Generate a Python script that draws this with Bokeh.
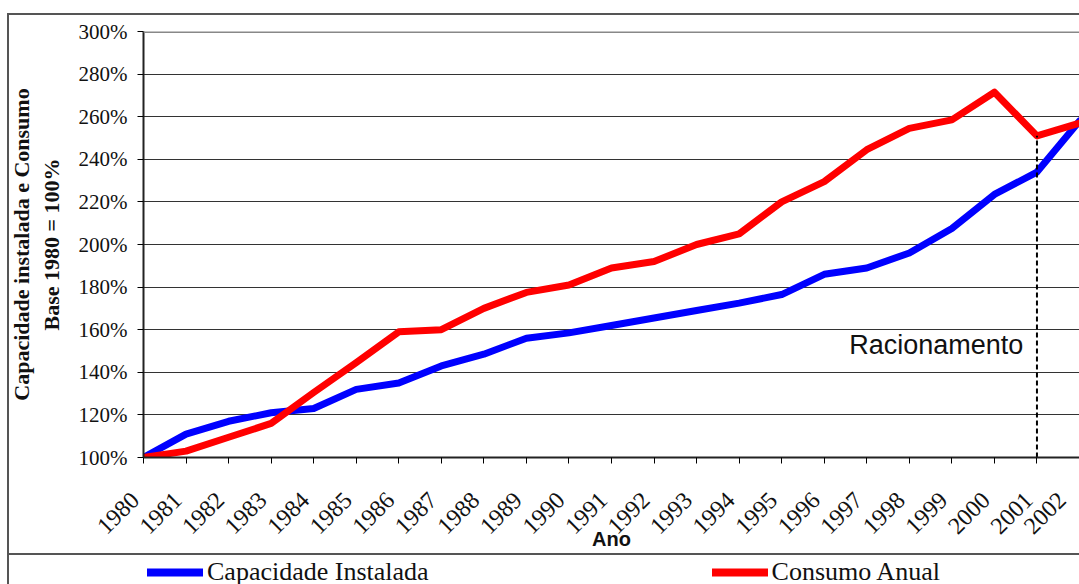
import math
from bokeh.plotting import figure
from bokeh.layouts import column
from bokeh.models import (FixedTicker, PrintfTickFormatter, Legend, LegendItem, Label,
                          Span, Range1d, InlineStyleSheet)
from bokeh.embed import file_html
from bokeh.resources import INLINE

# ---- data ----
years = [1980, 1981, 1982, 1983, 1984, 1985, 1986, 1987, 1988, 1989, 1990, 1991,
         1992, 1993, 1994, 1995, 1996, 1997, 1998, 1999, 2000, 2001, 2002]
capacidade = [100, 111, 117, 121, 123, 132, 135, 143, 148.5, 156, 158.5, 162,
              165.5, 169, 172.5, 176.5, 186, 189, 196, 207.5, 223.5, 234, 258]
consumo = [100, 103, 109.5, 116, 130.5, 144.5, 159, 160, 170, 177.5, 181, 189,
           192, 200, 205, 220, 229.5, 244.5, 254.5, 258.5, 271.5, 251, 257]
y_ticks = [100, 120, 140, 160, 180, 200, 220, 240, 260, 280, 300]
rationing_year = 2001
series_names = ["Capacidade Instalada", "Consumo Anual"]
series_colors = ["#0000FF", "#FF0000"]

SERIF = "Liberation Serif"
SANS = "Liberation Sans"

css = """
:host { position: relative; }
:host::before {
  content: ""; position: absolute; left: 7px; top: 13px; right: 0; bottom: 0;
  border-left: 2px solid #555555; border-top: 2px solid #555555;
  pointer-events: none; z-index: 10;
}
:host::after {
  content: ""; position: absolute; left: 7px; top: 553px; right: 0; height: 0;
  border-top: 2px solid #555555; pointer-events: none; z-index: 10;
}
"""

p = figure(width=1079, height=553, output_backend="svg", toolbar_location=None,
           x_range=Range1d(years[0], years[-1]), y_range=Range1d(y_ticks[0], y_ticks[-1]),
           min_border_left=143, min_border_top=31, min_border_bottom=95,
           min_border_right=0)
p.outline_line_color = None
p.background_fill_color = "white"
p.border_fill_color = "white"

# y axis
p.yaxis.ticker = FixedTicker(ticks=y_ticks)
p.yaxis.formatter = PrintfTickFormatter(format="%d%%")
p.yaxis.major_label_text_font = SERIF
p.yaxis.major_label_text_font_size = "21px"
p.yaxis.major_label_text_color = "#111111"
p.yaxis.major_tick_out = 6
p.yaxis.major_tick_in = 0
p.yaxis.minor_tick_line_color = None
p.yaxis.axis_line_width = 2
p.yaxis.axis_line_color = "#222222"
p.yaxis.major_label_standoff = 10
p.yaxis.axis_label = "Capacidade instalada e Consumo\nBase 1980 = 100%"
p.yaxis.axis_label_text_font = SERIF
p.yaxis.axis_label_text_font_style = "bold"
p.yaxis.axis_label_text_font_size = "22px"
p.yaxis.axis_label_text_color = "#111111"
p.yaxis.axis_label_standoff = 12

# x axis
p.xaxis.ticker = FixedTicker(ticks=years)
p.xaxis.formatter = PrintfTickFormatter(format="%d\u00a0\u00a0")
p.xaxis.major_label_orientation = math.pi / 4
p.xaxis.major_label_text_font = SERIF
p.xaxis.major_label_text_font_size = "24px"
p.xaxis.major_label_text_color = "#111111"
p.xaxis.major_tick_out = 6
p.xaxis.major_tick_in = 0
p.xaxis.minor_tick_line_color = None
p.xaxis.axis_line_width = 2
p.xaxis.axis_line_color = "#222222"
p.xaxis.major_label_standoff = 24
p.xaxis.axis_label = "Ano"
p.xaxis.axis_label_text_font = SANS
p.xaxis.axis_label_text_font_style = "bold"
p.xaxis.axis_label_text_font_size = "20px"
p.xaxis.axis_label_text_color = "#111111"
p.xaxis.axis_label_standoff = -23

p.xgrid.grid_line_color = None
p.ygrid.ticker = FixedTicker(ticks=y_ticks)
p.ygrid.grid_line_color = "#333333"
p.ygrid.grid_line_width = 1

# gray top border of plot area
p.add_layout(Span(location=y_ticks[-1], dimension="width", line_color="#888888", line_width=3))

# data lines
p.line(years, capacidade, line_color=series_colors[0], line_width=7,
       line_join="round", line_cap="round")
p.line(years, consumo, line_color=series_colors[1], line_width=7,
       line_join="round", line_cap="round")

# rationing marker
idx = years.index(rationing_year)
p.segment(x0=[years[idx]], y0=[y_ticks[0]], x1=[years[idx]], y1=[consumo[idx]],
          line_color="black", line_width=2, line_dash="5 3")
p.add_layout(Label(x=rationing_year - 0.32, y=153, text="Racionamento",
                   text_font=SANS, text_font_size="27px", text_color="#111111",
                   text_align="right", text_baseline="middle"))

# ---- legend strip below the chart (series drawn out of view; only the legend shows) ----
lg = figure(width=1079, height=31, output_backend="svg", toolbar_location=None,
            x_axis_type=None, y_axis_type=None,
            x_range=Range1d(years[0], years[-1]), y_range=Range1d(-2, -1),
            min_border_left=0, min_border_right=0, min_border_top=0, min_border_bottom=0)
lg.outline_line_color = None
lg.xgrid.grid_line_color = None
lg.ygrid.grid_line_color = None
lg.background_fill_color = "white"
lg.border_fill_color = "white"
lr_cap = lg.line(years, capacidade, line_color=series_colors[0], line_width=8, line_cap="round")
lr_con = lg.line(years, consumo, line_color=series_colors[1], line_width=8, line_cap="round")

legend = Legend(items=[LegendItem(label=series_names[0], renderers=[lr_cap]),
                       LegendItem(label=series_names[1], renderers=[lr_con])],
                orientation="horizontal", location=(4, -3))
legend.label_text_font = SERIF
legend.label_text_font_size = "26px"
legend.label_text_color = "#111111"
legend.glyph_width = 56
legend.glyph_height = 30
legend.label_height = 30
legend.label_standoff = 4
legend.spacing = 283
legend.padding = 0
legend.margin = 0
legend.border_line_color = None
legend.background_fill_alpha = 0
lg.add_layout(legend, "center")

layout = column(p, lg, spacing=0, stylesheets=[InlineStyleSheet(css=css)])

open("out.html", "w").write(file_html(layout, INLINE))
